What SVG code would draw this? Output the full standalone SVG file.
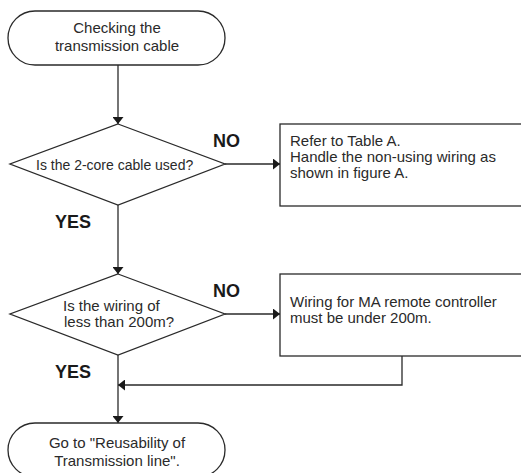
<svg xmlns="http://www.w3.org/2000/svg" width="521" height="473" viewBox="0 0 521 473">
<style>
.s{fill:#fff;stroke:#2a2a2a;stroke-width:1.3}
.c{fill:none;stroke:#2a2a2a;stroke-width:1.3}
.t{font-family:"Liberation Sans",Arial,sans-serif;font-size:15px;fill:#2a2a2a}
.m{text-anchor:middle}
.b{font-family:"Liberation Sans",Arial,sans-serif;font-size:18px;font-weight:bold;fill:#1a1a1a}
</style>
<defs>
<marker id="ah" viewBox="0 0 7 11" refX="7" refY="5.5" markerWidth="7" markerHeight="11" markerUnits="userSpaceOnUse" orient="auto">
<path d="M0,0 L7,5.5 L0,11 Z" fill="#1a1a1a"/>
</marker>
</defs>
<rect width="521" height="473" fill="#fff"/>
<g id="connectors">
<path class="c" d="M118,65 V124" marker-end="url(#ah)"/>
<path class="c" d="M225,164 H280" marker-end="url(#ah)"/>
<path class="c" d="M118,205 V274" marker-end="url(#ah)"/>
<path class="c" d="M225,314 H280" marker-end="url(#ah)"/>
<path class="c" d="M402,356 V385 H118" marker-end="url(#ah)"/>
<path class="c" d="M118,355 V423" marker-end="url(#ah)"/>
</g>
<g id="start">
<rect class="s" x="8" y="11" width="217" height="54" rx="27" ry="27"/>
<text class="t m" x="117" y="33">Checking the</text>
<text class="t m" x="117" y="51">transmission cable</text>
</g>
<g id="decision1">
<polygon class="s" points="118,124 225,164 118,205 10,164"/>
<text class="t" x="36" y="170" style="font-size:14px">Is the 2-core cable used?</text>
</g>
<g id="box1">
<rect class="s" x="280" y="124" width="260" height="82"/>
<text class="t" x="290" y="146">Refer to Table A.</text>
<text class="t" x="290" y="162">Handle the non-using wiring as</text>
<text class="t" x="290" y="178">shown in figure A.</text>
</g>
<g id="decision2">
<polygon class="s" points="118,274 225,314 118,355 10,314"/>
<text class="t" x="63" y="311">Is the wiring of</text>
<text class="t" x="64" y="327">less than 200m?</text>
</g>
<g id="box2">
<rect class="s" x="280" y="274" width="260" height="82"/>
<text class="t" x="290" y="307">Wiring for MA remote controller</text>
<text class="t" x="290" y="323">must be under 200m.</text>
</g>
<g id="end">
<rect class="s" x="8" y="423" width="217" height="54" rx="27" ry="27"/>
<text class="t m" x="117" y="448">Go to "Reusability of</text>
<text class="t m" x="117" y="466">Transmission line".</text>
</g>
<g id="labels">
<text class="b" x="213" y="147">NO</text>
<text class="b" x="55" y="228">YES</text>
<text class="b" x="213" y="297">NO</text>
<text class="b" x="55" y="378">YES</text>
</g>
</svg>
